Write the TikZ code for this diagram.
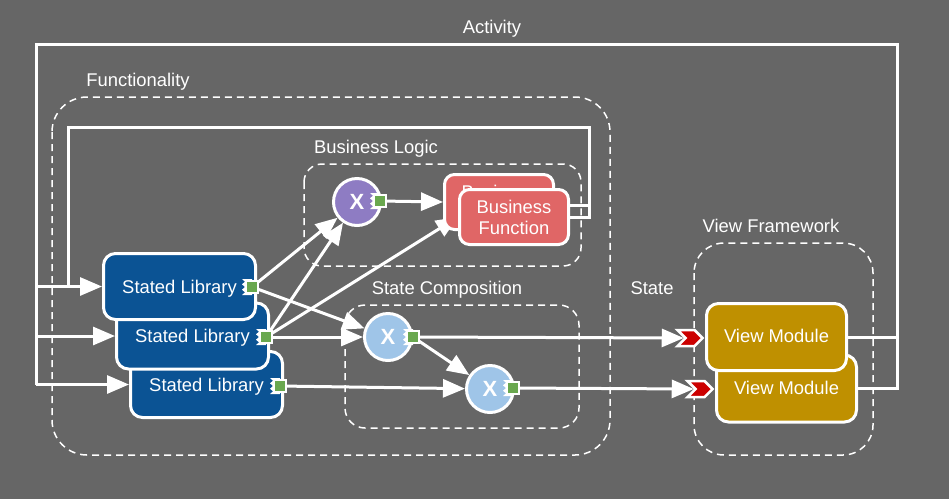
\documentclass[tikz,border=0pt]{standalone}
\usepackage{fontspec}
\setmainfont{Liberation Sans}
\usetikzlibrary{arrows.meta,shapes.symbols,calc}
\definecolor{bgc}{RGB}{102,102,102}
\definecolor{slblue}{RGB}{11,83,148}
\definecolor{purp}{RGB}{142,124,195}
\definecolor{ltblue}{RGB}{159,197,232}
\definecolor{bfred}{RGB}{224,102,102}
\definecolor{vmgold}{RGB}{191,144,0}
\definecolor{portgreen}{RGB}{106,168,79}
\definecolor{chevred}{RGB}{204,0,0}
\pgfdeclarelayer{bgl}
\pgfdeclarelayer{conn}
\pgfsetlayers{bgl,conn,main}
\newcommand\mkport[2]{%
  \fill[white] ($(#2)+(-10,-8)$) -- ++(3,2.67) -- ++(-3,2.67) -- ++(3,2.67) -- ++(-3,2.67) -- ++(3,2.67) -- ++(-3,2.67) -- ++(10,0) -- ++(0,-16) -- cycle;
  \node[port] (#1) at (#2) {};}
\begin{document}
\begin{tikzpicture}[x=1pt,y=-1pt,
  every node/.style={text=white,font=\fontsize{18.4}{21}\selectfont},
  slbox/.style={draw=white,line width=3pt,fill=slblue,rounded corners=12pt,minimum width=152pt,minimum height=66pt,inner sep=0pt,text depth=0pt},
  vmbox/.style={draw=white,line width=3pt,fill=vmgold,rounded corners=12pt,minimum width=140pt,minimum height=67pt,inner sep=0pt,text depth=1.5pt},
  bfbox/.style={draw=white,line width=3pt,fill=bfred,rounded corners=10pt,minimum width=109pt,minimum height=55pt,inner sep=0pt,align=center},
  xcirc/.style={circle,draw=white,line width=3pt,minimum size=47pt,inner sep=0pt,font=\bfseries\fontsize{22}{22}\selectfont},
  port/.style={rectangle,draw=white,line width=2pt,fill=portgreen,minimum size=12pt,inner sep=0pt},
  chev/.style={signal,signal from=west,signal to=east,draw=white,line width=2.5pt,fill=chevred,minimum width=25pt,minimum height=16pt,inner sep=0pt},
  grp/.style={draw=white,line width=1.5pt,dash pattern=on 7pt off 5pt},
  conn/.style={draw=white,line width=3pt},
  arr/.style={conn,-{Triangle[length=22pt,width=18pt]}},
  lbl/.style={anchor=base}]
\begin{pgfonlayer}{bgl}
\fill[bgc] (0,0) rectangle (949,499);
\draw[grp,rounded corners=35pt] (52,97) rectangle (610,455);
\draw[grp,rounded corners=18pt] (304,164) rectangle (581,266);
\draw[grp,rounded corners=20pt] (345,305) rectangle (579,428);
\draw[grp,rounded corners=30pt] (694,243) rectangle (873,455);
\end{pgfonlayer}
\useasboundingbox (0,0) rectangle (949,499);
% labels
\node[lbl] (lact) at (492,33) {Activity};
\node[lbl] (lfun) at (138,86.5) {Functionality};
\node[lbl] (lbus) at (376,153.5) {Business Logic};
\node[lbl] (lsc) at (447,294.5) {State Composition};
\node[lbl] (lst) at (652,294.5) {State};
\node[lbl] (lvf) at (771,232) {View Framework};
% stated libraries
\node[slbox] (SL3) at (206.5,384.5) {Stated Library};
\mkport{p3}{280,386}
\node[slbox] (SL2) at (192.5,336) {Stated Library};
\mkport{p2}{266,337}
\node[slbox] (SL1) at (179.5,286.5) {Stated Library};
\mkport{p1}{252,287}
% circles
\node[xcirc,fill=purp] (xp) at (357,202) {X};
\mkport{pp}{380,201}
\node[xcirc,fill=ltblue] (x1) at (388,337) {X};
\mkport{px1}{413,337}
\node[xcirc,fill=ltblue] (x2) at (490,389) {X};
\mkport{px2}{513,388}
% business functions
\node[bfbox] (BFb) at (499,202) {Business\\Function};
\node[bfbox] (BFf) at (514,217) {Business\\Function};
% view modules
\node[vmbox] (VM2) at (786.5,388.5) {View Module};
\node[vmbox] (VM1) at (776.5,337) {View Module};
\node[chev] (c1) at (690,338) {};
\node[chev] (c2) at (700,389) {};
% coordinates
\coordinate (aR) at (897,44);
\coordinate (aL) at (36,44);
\coordinate (fR) at (589,127);
\coordinate (fL) at (68,127);
\begin{pgfonlayer}{conn}
\draw[arr] (p1.center) -- (xp);
\draw[arr] (p2.center) -- (xp);
\draw[arr] (p1.center) -- (x1);
\draw[arr] (p2.center) -- (x1);
\draw[arr] (p2.center) -- (BFf.west);
\draw[arr] (pp.center) -- (BFb.west);
\draw[arr] (p3.center) -- (x2);
\draw[arr] (px1.center) -- (x2);
\draw[arr] (px1.center) -- (c1.west);
\draw[arr] (px2.center) -- (c2.west);
\draw[conn] ([yshift=-3pt]BFb.east) -- ([yshift=-3pt]BFb.east -| fR);
\draw[conn] (BFf.east) -- (BFf.east -| fR) -- (fR) -- (fL) -- (fL |- SL1.west);
\draw[conn] (VM1.east) -- (VM1.east -| aR);
\draw[conn] (VM2.east) -- (VM2.east -| aR) -- (aR) -- (aL) -- (aL |- SL3.west);
\draw[arr] (aL |- SL1.west) -- (SL1.west);
\draw[arr] (aL |- SL2.west) -- (SL2.west);
\draw[arr] (aL |- SL3.west) -- (SL3.west);
\end{pgfonlayer}
\end{tikzpicture}
\end{document}
